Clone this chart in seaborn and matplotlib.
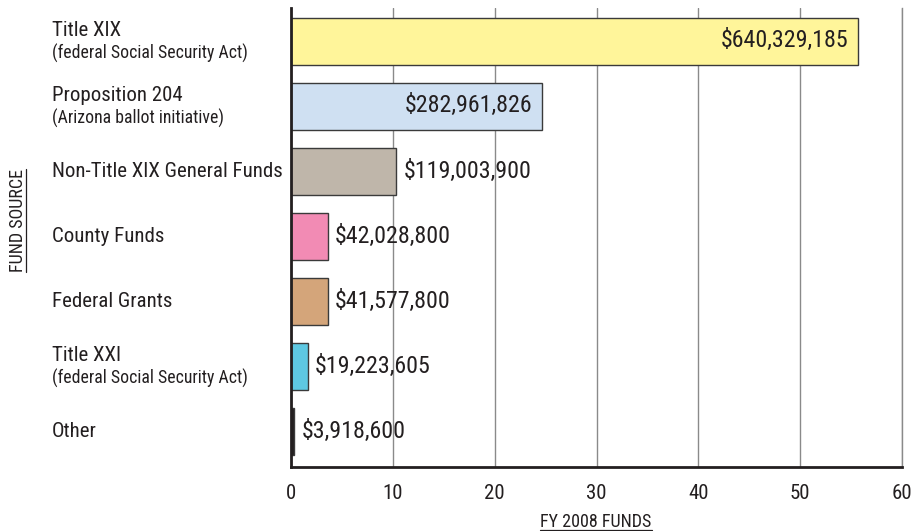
import numpy as np
import pandas as pd
import matplotlib.pyplot as plt
import seaborn as sns
from matplotlib import font_manager
from matplotlib.lines import Line2D

# data
sources = ["Title XIX", "Proposition 204", "Non-Title XIX General Funds", "County Funds",
           "Federal Grants", "Title XXI", "Other"]
notes = ["(federal Social Security Act)", "(Arizona ballot initiative)", "", "", "",
         "(federal Social Security Act)", ""]
funds = [640329185, 282961826, 119003900, 42028800, 41577800, 19223605, 3918600]
colors = ["#FFF59A", "#CFE0F2", "#BFB6AA", "#F28BB4", "#D4A57A", "#5EC8E2", "#231F20"]

sns.set_style("white")

# look for some condensed face
cands = []
for f in font_manager.fontManager.ttflist:
    st = str(f.stretch)
    if f.style != "normal" or f.weight not in (400, "normal", "regular"):
        continue
    if "condensed" in st or "Narrow" in f.name or "Condensed" in f.name:
        cands.append((f.name, f.fname))
pick = None
for pref in ["Liberation Sans Narrow", "Roboto Condensed", "DejaVu Sans", "Noto Sans", "Open Sans"]:
    for n, fn in cands:
        if n == pref:
            pick = fn
            break
    if pick:
        break
if pick is None and cands:
    pick = cands[0][1]
if pick:
    font_manager.fontManager.addfont(pick)
    fam = font_manager.FontProperties(fname=pick).get_name()
    plt.rcParams['font.family'] = [fam, 'DejaVu Sans']
    FP = lambda size: font_manager.FontProperties(fname=pick, size=size)
else:
    plt.rcParams['font.family'] = ['DejaVu Sans']
    FP = lambda size: font_manager.FontProperties(family="DejaVu Sans", size=size * 0.8)
ink = "#231F20"

df = pd.DataFrame({"source": sources, "funds": funds})
df["pct"] = df["funds"] / df["funds"].sum() * 100

fig = plt.figure(figsize=(9.22, 5.31), dpi=100)
ax = fig.add_axes([291/922, 64/531, 611/922, 459/531])

sns.barplot(data=df, x="pct", y="source", hue="source", palette=colors, legend=False,
            saturation=1, edgecolor="#3a3a3a", linewidth=1, width=0.72, ax=ax)

ax.set_xlim(0, 60)
ax.set_ylim(6.54, -0.52)
ax.set_xticks(range(0, 61, 10))
ax.xaxis.grid(True, color="#8a8a8a", lw=1)
ax.set_axisbelow(True)
ax.spines["top"].set_visible(False)
ax.spines["right"].set_color("#8a8a8a")
ax.spines["right"].set_linewidth(1)
for s in ["left", "bottom"]:
    ax.spines[s].set_color(ink)
    ax.spines[s].set_linewidth(2)
ax.tick_params(axis="x", length=0, pad=12, labelcolor=ink)
for t in ax.get_xticklabels():
    t.set_fontproperties(FP(15))
ax.set_yticks([])
ax.set_xlabel("")
ax.set_ylabel("")

# category labels
ytr = ax.get_yaxis_transform()
for i, (src, note) in enumerate(zip(sources, notes)):
    if note:
        ax.annotate(src, (-0.391, i), xycoords=ytr, xytext=(0, 8.5), textcoords="offset points",
                    ha="left", va="center", fontproperties=FP(15), color=ink, annotation_clip=False)
        ax.annotate(note, (-0.391, i), xycoords=ytr, xytext=(0, -8.5), textcoords="offset points",
                    ha="left", va="center", fontproperties=FP(12.8), color=ink, annotation_clip=False)
    else:
        ax.annotate(src, (-0.391, i), xycoords=ytr, ha="left", va="center",
                    fontproperties=FP(15), color=ink, annotation_clip=False)

# value labels
for i, (p, v) in enumerate(zip(df["pct"], funds)):
    lab = "${:,}".format(v)
    if p > 20:
        ax.annotate(lab, (p, i), xytext=(-7, 1), textcoords="offset points",
                    ha="right", va="center", fontproperties=FP(17.3), color=ink)
    else:
        ax.annotate(lab, (p, i), xytext=(5, 0), textcoords="offset points",
                    ha="left", va="center", fontproperties=FP(17.3), color=ink)

# axis titles, underlined
t1 = fig.text(596/922, 1 - 522/531, "FY 2008 FUNDS", ha="center", va="center",
              fontproperties=FP(13), color=ink)
t2 = fig.text(18/922, 1 - 220/531, "FUND SOURCE", ha="center", va="center", rotation=90,
              fontproperties=FP(13), color=ink)
fig.canvas.draw()
inv = fig.transFigure.inverted()
bb = t1.get_window_extent().transformed(inv)
fig.add_artist(Line2D([bb.x0, bb.x1], [bb.y0 + 0.002, bb.y0 + 0.002], transform=fig.transFigure,
                      color=ink, lw=0.9))
bb = t2.get_window_extent().transformed(inv)
fig.add_artist(Line2D([bb.x1 - 0.001, bb.x1 - 0.001], [bb.y0, bb.y1], transform=fig.transFigure,
                      color=ink, lw=0.9))

fig.savefig("out.png", dpi=100)
